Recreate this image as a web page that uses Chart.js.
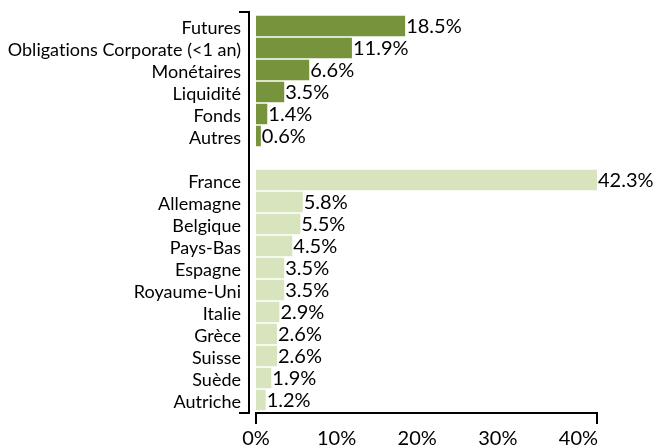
<!DOCTYPE html>
<html lang="fr">
<head>
  <meta charset="UTF-8" />
  <title>Répartition</title>
  <script src="https://cdn.jsdelivr.net/npm/chart.js"></script>
  <style>
    html, body { margin: 0; padding: 0; background: #fff; }
    #wrap { width: 655px; height: 446px; }
  </style>
</head>
<body>
  <div id="wrap"><canvas id="graphique"></canvas></div>
  <script>
    // données
    const typeLabels = ['Futures', 'Obligations Corporate (<1 an)', 'Monétaires', 'Liquidité', 'Fonds', 'Autres'];
    const typeValues = [18.5, 11.9, 6.6, 3.5, 1.4, 0.6];
    const paysLabels = ['France', 'Allemagne', 'Belgique', 'Pays-Bas', 'Espagne', 'Royaume-Uni', 'Italie', 'Grèce', 'Suisse', 'Suède', 'Autriche'];
    const paysValues = [42.3, 5.8, 5.5, 4.5, 3.5, 3.5, 2.9, 2.6, 2.6, 1.9, 1.2];
    const xTicks = [0, 10, 20, 30, 40];

    const couleurType = '#77933C';
    const couleurPays = '#D7E4BD';

    const labels = [...typeLabels, '', ...paysLabels];
    const valeurs = [...typeValues, null, ...paysValues];
    const couleurs = [...typeValues.map(() => couleurType), 'rgba(0,0,0,0)', ...paysValues.map(() => couleurPays)];
    const xMax = Math.max(...paysValues, ...typeValues);

    const police = "Lato, 'Noto Sans', sans-serif";

    // pas de ligatures (ti, fi...) dans les textes du canvas
    const sansLigatures = {
      id: 'sansLigatures',
      beforeDraw(chart) {
        const ctx = chart.ctx;
        if ('letterSpacing' in ctx) ctx.letterSpacing = '0.01px';
      }
    };

    // étiquettes de valeur au bout des barres
    const etiquettes = {
      id: 'etiquettes',
      afterDatasetsDraw(chart) {
        const ctx = chart.ctx;
        const meta = chart.getDatasetMeta(0);
        ctx.save();
        ctx.font = '20px ' + police;
        ctx.fillStyle = '#000';
        ctx.textAlign = 'left';
        ctx.textBaseline = 'middle';
        meta.data.forEach((bar, i) => {
          const v = valeurs[i];
          if (v == null) return;
          ctx.fillText(v.toFixed(1) + '%', bar.x + 1, bar.y + 1);
        });
        ctx.restore();
      }
    };

    // axes en forme de crochet
    const axes = {
      id: 'axes',
      afterDraw(chart) {
        const { ctx, chartArea } = chart;
        const x = chart.scales.x;
        const gauche = chartArea.left - 7;
        const haut = chartArea.top - 3;
        const bas = chartArea.bottom + 2;
        ctx.save();
        ctx.strokeStyle = '#000';
        ctx.lineWidth = 2;
        ctx.beginPath();
        ctx.moveTo(gauche - 10, haut);
        ctx.lineTo(gauche, haut);
        ctx.lineTo(gauche, bas);
        ctx.lineTo(gauche - 10, bas);
        ctx.stroke();
        const x0 = x.getPixelForValue(0);
        const x1 = x.getPixelForValue(xMax);
        ctx.beginPath();
        ctx.moveTo(x0, bas + 11);
        ctx.lineTo(x0, bas);
        ctx.lineTo(x1, bas);
        ctx.lineTo(x1, bas + 11);
        ctx.stroke();
        ctx.restore();
      }
    };

    new Chart(document.getElementById('graphique'), {
      type: 'bar',
      data: {
        labels: labels,
        datasets: [{
          data: valeurs,
          backgroundColor: couleurs,
          barPercentage: 0.93,
          categoryPercentage: 1
        }]
      },
      options: {
        indexAxis: 'y',
        responsive: true,
        maintainAspectRatio: false,
        animation: false,
        layout: { padding: { top: 15, right: 58, bottom: 0, left: 0 } },
        plugins: {
          legend: { display: false },
          tooltip: { enabled: false }
        },
        scales: {
          x: {
            min: 0,
            max: xMax,
            afterBuildTicks: (scale) => { scale.ticks = xTicks.map(v => ({ value: v })); },
            afterFit: (scale) => {
              scale.height = 35;
              scale.paddingLeft = 0;
              scale.paddingRight = 0;
            },
            grid: { display: false, drawTicks: false },
            border: { display: false },
            ticks: {
              padding: 16,
              color: '#000',
              font: { family: police, size: 20 },
              callback: (v) => v + '%'
            }
          },
          y: {
            afterFit: (scale) => {
              scale.width = 256;
              scale.paddingTop = 0;
              scale.paddingBottom = 0;
            },
            grid: { display: false, drawTicks: false },
            border: { display: false },
            ticks: {
              padding: 15,
              labelOffset: 2,
              autoSkip: false,
              color: '#000',
              font: { family: police, size: 18 }
            }
          }
        }
      },
      plugins: [sansLigatures, etiquettes, axes]
    });
  </script>
</body>
</html>
